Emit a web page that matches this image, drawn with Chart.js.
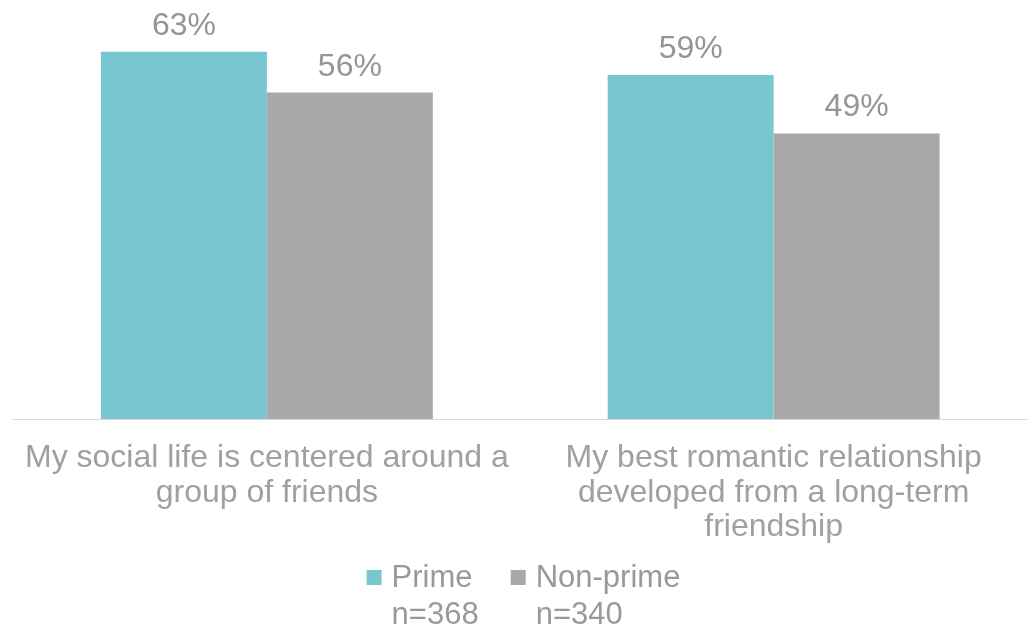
<!DOCTYPE html>
<html>
<head>
<meta charset="utf-8">
<script src="https://cdn.jsdelivr.net/npm/chart.js@4.4.1/dist/chart.umd.min.js"></script>
<style>
  html, body { margin: 0; padding: 0; background: #ffffff; }
  #wrap { width: 1027px; height: 628px; }
</style>
</head>
<body>
<div id="wrap"><canvas id="c" width="1027" height="628"></canvas></div>
<script>
const categories = [
  ['My social life is centered around a', 'group of friends'],
  ['My best romantic relationship', 'developed from a long-term', 'friendship']
];
const seriesNames = ['Prime', 'Non-prime'];
const sampleSizes = ['n=368', 'n=340'];
const primeValues = [63, 59];
const nonPrimeValues = [56, 49];
const seriesColors = ['#78C7D0', '#A9A9A9'];

const FONT = '"Liberation Sans", Arial, sans-serif';

const valueLabels = {
  id: 'valueLabels',
  afterDatasetsDraw(chart) {
    const ctx = chart.ctx;
    ctx.save();
    ctx.font = '32px ' + FONT;
    ctx.fillStyle = '#959595';
    ctx.textAlign = 'center';
    ctx.textBaseline = 'alphabetic';
    chart.data.datasets.forEach((ds, di) => {
      const meta = chart.getDatasetMeta(di);
      meta.data.forEach((bar, i) => {
        ctx.fillText(ds.data[i] + '%', bar.x, bar.y - 17);
      });
    });
    ctx.restore();
  }
};

const customLegend = {
  id: 'customLegend',
  afterDraw(chart) {
    const ctx = chart.ctx;
    ctx.save();
    ctx.font = '31px ' + FONT;
    ctx.textBaseline = 'alphabetic';
    ctx.textAlign = 'left';
    const box = 15, gap = 10, itemGap = 32;
    const widths = seriesNames.map((n, i) => Math.max(ctx.measureText(n).width, ctx.measureText(sampleSizes[i]).width));
    let total = 0;
    widths.forEach((w, i) => { total += box + gap + w + (i < widths.length - 1 ? itemGap : 0); });
    let x = (chart.width - total) / 2 + 10;
    const y1 = 587, y2 = 624;
    seriesNames.forEach((name, i) => {
      ctx.fillStyle = seriesColors[i];
      ctx.fillRect(x, y1 - 17, box, box);
      ctx.fillStyle = '#999999';
      ctx.fillText(name, x + box + gap, y1);
      ctx.fillText(sampleSizes[i], x + box + gap, y2);
      x += box + gap + widths[i] + itemGap;
    });
    ctx.restore();
  }
};

new Chart(document.getElementById('c'), {
  type: 'bar',
  data: {
    labels: categories,
    datasets: [
      { label: seriesNames[0], data: primeValues, backgroundColor: seriesColors[0], borderWidth: 0 },
      { label: seriesNames[1], data: nonPrimeValues, backgroundColor: seriesColors[1], borderWidth: 0 }
    ]
  },
  options: {
    responsive: false,
    animation: false,
    devicePixelRatio: 1,
    layout: { padding: { left: 12, right: 0, top: 11, bottom: 61.5 } },
    plugins: { legend: { display: false }, tooltip: { enabled: false } },
    datasets: { bar: { categoryPercentage: 0.655, barPercentage: 1.0 } },
    scales: {
      x: {
        grid: { display: false, drawTicks: false },
        border: { display: true, color: '#D9D9D9', width: 1 },
        ticks: { color: '#A0A0A0', font: { family: FONT, size: 32, lineHeight: 1.078 }, padding: 22, maxRotation: 0, autoSkip: false }
      },
      y: {
        display: false,
        min: 0,
        max: 70,
        grid: { display: false }
      }
    }
  },
  plugins: [valueLabels, customLegend]
});
</script>
</body>
</html>
